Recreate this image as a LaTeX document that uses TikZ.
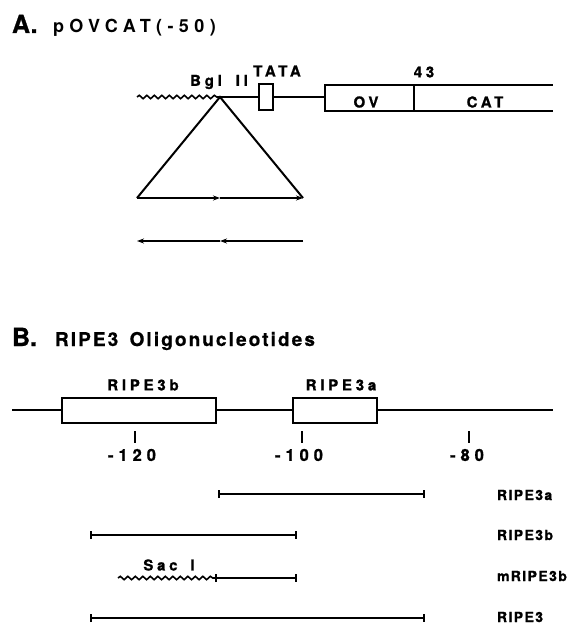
\documentclass[tikz,border=0pt]{standalone}
\usepackage{fontspec}
\setmainfont{TeX Gyre Heros}
\usetikzlibrary{arrows.meta,decorations.pathmorphing}
\tikzset{
  every node/.style={inner sep=0pt, outer sep=0pt},
  ln/.style={line width=2pt},
  wavy/.style={line width=1.6pt, decorate, decoration={snake, segment length=7.5pt, amplitude=1.7pt}},
  boxn/.style={draw, line width=2pt, fill=white},
  labA/.style={font=\fontsize{15}{15}\selectfont\bfseries\addfontfeature{LetterSpace=25,FakeBold=1}},
  labR/.style={font=\fontsize{14}{14}\selectfont\bfseries\addfontfeature{LetterSpace=10,FakeBold=1}},
  num/.style={font=\fontsize{16.5}{16.5}\selectfont\bfseries\addfontfeature{LetterSpace=30,FakeBold=1}},
  bigl/.style={font=\fontsize{25}{25}\selectfont\bfseries\addfontfeature{FakeBold=1}},
  headA/.style={font=\fontsize{18}{18}\selectfont\bfseries\addfontfeature{LetterSpace=30}},
  headB/.style={font=\fontsize{19}{19}\selectfont\bfseries\addfontfeature{LetterSpace=11,FakeBold=0.6}},
  fwd/.style={ln, -{Stealth[length=7pt,width=5pt]}},
  barred/.style={ln, {Bar[width=8pt,line width=2pt]}-{Bar[width=8pt,line width=2pt]}},
  tick/.style={line width=2pt},
}
\begin{document}
\begin{tikzpicture}[x=1pt,y=-1pt]
\path[use as bounding box, fill=white] (0,0) rectangle (577,626);

% ---------- Section A ----------
\node[bigl, anchor=base west] (tA) at (12,33) {A.};
\node[headA, anchor=base west] (tAn) at (53,33) {pOVCAT(-50)};

\coordinate (w0) at (137,97);
\coordinate (bgl) at (220,97);
\node[boxn, minimum width=14pt, minimum height=26pt] (tata) at (266,97) {};
\node[draw, line width=2pt, minimum width=89pt, minimum height=26pt] (ov) at (369.5,98) {};
\coordinate (catT) at (553,85);
\coordinate (catB) at (553,111);

\draw[wavy] (w0) -- (bgl);
\draw[ln] (bgl) -- (tata.west);
\draw[ln] (tata.east) -- (tata.east -| ov.west);
\draw[ln] (ov.north east) -- (catT);
\draw[ln] (ov.south east) -- (catB);

\node[labA] (bgllab) at (219,82) {Bgl\ \kern6pt II};
\node[labA] (tatalab) at (277,71) {TATA};
\node[labA] (n43) at (424,72) {43};
\node[labA] (ovlab) at (366,102) {OV};
\node[labA] (catlab) at (485,102) {CAT};

\coordinate (bl) at (137,198);
\coordinate (bm) at (220,198);
\coordinate (br) at (303,198);
\draw[ln, line join=miter] (bl) -- (bgl) -- (br);
\draw[fwd] (bl) -- (bm);
\draw[fwd] (bm) -- (br);

\coordinate (l2) at (137,241);
\coordinate (m2) at (220,241);
\coordinate (r2) at (303,241);
\draw[fwd] (r2) -- (m2);
\draw[fwd] (m2) -- (l2);

% ---------- Section B ----------
\node[bigl, anchor=base west] (tB) at (12,346) {B.};
\node[headB, anchor=base west] (tBn) at (55,346) {RIPE3\ \kern4pt Oligonucleotides};

\coordinate (ml0) at (12,410);
\coordinate (ml1) at (553,410);
\draw[ln] (ml0) -- (ml1);
\node[boxn, minimum width=154pt, minimum height=25pt] (b3b) at (139,410.5) {};
\node[boxn, minimum width=84pt, minimum height=25pt] (b3a) at (335,410.5) {};
\node[labA] (b3blab) at (143,385) {RIPE3b};
\node[labA] (b3alab) at (341,385) {RIPE3a};

\coordinate (t1a) at (135,431); \coordinate (t1b) at (135,443);
\coordinate (t2a) at (302,431); \coordinate (t2b) at (302,443);
\coordinate (t3a) at (469,431); \coordinate (t3b) at (469,443);
\draw[tick] (t1a) -- (t1b);
\draw[tick] (t2a) -- (t2b);
\draw[tick] (t3a) -- (t3b);
\node[num] (n120) at (132,455) {-120};
\node[num] (n100) at (299,455) {-100};
\node[num] (n80) at (467,455) {-80};

% rows
\coordinate (r1a) at (218,494); \coordinate (r1b) at (425,494);
\coordinate (r2a) at (90,535);  \coordinate (r2b) at (297,535);
\coordinate (r3w) at (118,578); \coordinate (r3a) at (215,578); \coordinate (r3b) at (297,578);
\coordinate (r4a) at (90,618);  \coordinate (r4b) at (425,618);
\draw[barred] (r1a) -- (r1b);
\draw[barred] (r2a) -- (r2b);
\draw[wavy] (r3w) -- (r3a);
\draw[barred] (r3a) -- (r3b);
\draw[barred] (r4a) -- (r4b);

\node[labA] (saclab) at (169,565) {Sac\ \kern5pt I};
\node[labR, anchor=west] (l1) at (497,495) {RIPE3a};
\node[labR, anchor=west] (l2lab) at (497,535) {RIPE3b};
\node[labR, anchor=west] (l3) at (497,576) {mRIPE3b};
\node[labR, anchor=west] (l4) at (497,617) {RIPE3};
\end{tikzpicture}
\end{document}
